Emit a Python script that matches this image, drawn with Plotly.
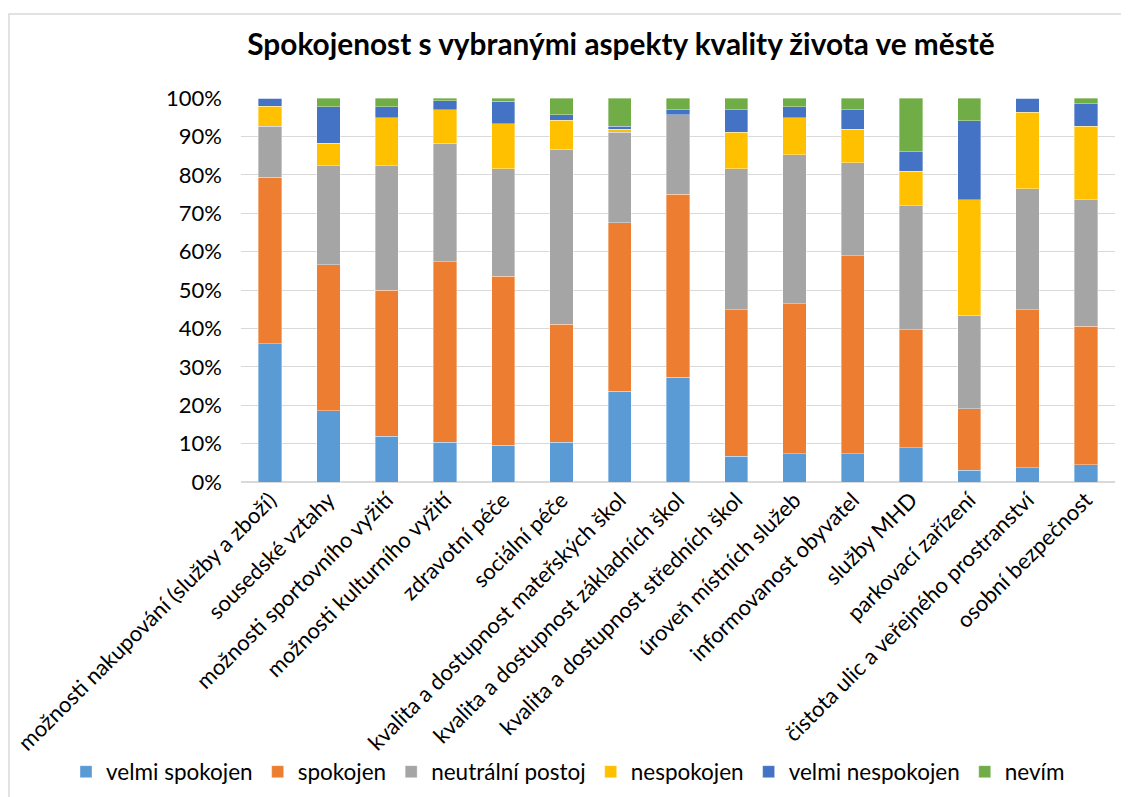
import plotly.graph_objects as go

# categories and shares (%)
categories = [
    'možnosti nakupování (služby a zboží)',
    'sousedské vztahy',
    'možnosti sportovního vyžití',
    'možnosti kulturního vyžití',
    'zdravotní péče',
    'sociální péče',
    'kvalita a dostupnost mateřských škol',
    'kvalita a dostupnost základních škol',
    'kvalita a dostupnost středních škol',
    'úroveň místních služeb',
    'informovanost obyvatel',
    'služby MHD',
    'parkovací zařízení',
    'čistota ulic a veřejného prostranství',
    'osobní bezpečnost',
]

velmi_spokojen = [36.0, 18.5, 11.9, 10.3, 9.6, 10.3, 23.6, 27.3, 6.7, 7.4, 7.4, 8.9, 3.0, 3.7, 4.5]
spokojen = [43.4, 38.1, 38.1, 47.0, 44.0, 30.8, 43.9, 47.6, 38.2, 39.0, 51.5, 30.8, 16.1, 41.2, 36.0]
neutralni = [13.2, 25.8, 32.4, 30.9, 28.0, 45.6, 23.6, 20.7, 36.7, 38.8, 24.2, 32.3, 24.3, 31.5, 33.0]
nespokojen = [5.2, 5.8, 12.4, 8.8, 11.7, 7.5, 0.8, 0.0, 9.5, 9.6, 8.8, 8.9, 30.1, 19.9, 19.1]
velmi_nespokojen = [2.2, 9.5, 2.9, 2.3, 5.9, 1.4, 0.7, 1.4, 5.9, 2.9, 5.1, 5.1, 20.6, 3.7, 5.9]
nevim = [0.0, 2.3, 2.3, 0.7, 0.8, 4.4, 7.4, 3.0, 3.0, 2.3, 3.0, 14.0, 5.9, 0.0, 1.5]

series = [
    ('velmi spokojen', velmi_spokojen, '#5B9BD5'),
    ('spokojen', spokojen, '#ED7D31'),
    ('neutrální postoj', neutralni, '#A5A5A5'),
    ('nespokojen', nespokojen, '#FFC000'),
    ('velmi nespokojen', velmi_nespokojen, '#4472C4'),
    ('nevím', nevim, '#70AD47'),
]

W, H = 1129, 797
L, R, T, B = 233, 22, 90, 323
pw, ph = W - L - R, H - T - B

fig = go.Figure()
for name, vals, col in series:
    fig.add_trace(go.Bar(x=categories, y=vals, name=name,
                         marker=dict(color=col, line=dict(width=0.6, color='rgba(255,255,255,0.6)'))))

fig.update_layout(
    barmode='stack',
    barnorm='percent',
    bargap=0.6,
    width=W, height=H,
    margin=dict(l=L, r=R, t=T, b=B),
    paper_bgcolor='white',
    plot_bgcolor='white',
    font=dict(family='Lato, Carlito, sans-serif', size=21, color='#000000'),
    title=dict(text='<b>Spokojenost s vybranými aspekty kvality života ve městě</b>',
               x=613 / W, xanchor='center', y=1 - 37 / H, yanchor='middle',
               font=dict(size=29.8, color='#000000')),
    # x < 0 with left anchor lets the legend use the full width in one row
    legend=dict(orientation='h', x=(58 - L) / pw, xanchor='left',
                y=(H - B - 764) / ph, yanchor='middle',
                font=dict(size=22.5), itemwidth=30, traceorder='normal'),
    showlegend=True,
)

fig.update_xaxes(tickangle=-45, automargin=False, showgrid=False, showline=False,
                 ticks='', tickfont=dict(size=22))
fig.update_yaxes(range=[0, 100], dtick=10, ticksuffix='%', automargin=False,
                 gridcolor='#D9D9D9', gridwidth=1, zeroline=True, zerolinecolor='#D9D9D9',
                 showline=False, ticks='', tickfont=dict(size=22), ticklabelstandoff=18)

# light outer chart border
fig.add_shape(type='rect', xref='paper', yref='paper',
              x0=(1 - L) / pw, x1=(W + 10 - L) / pw,
              y0=-(B + 10) / ph, y1=(H - B - 6) / ph,
              line=dict(color='#D9D9D9', width=1.5), layer='below')

fig.write_html("out.html")
